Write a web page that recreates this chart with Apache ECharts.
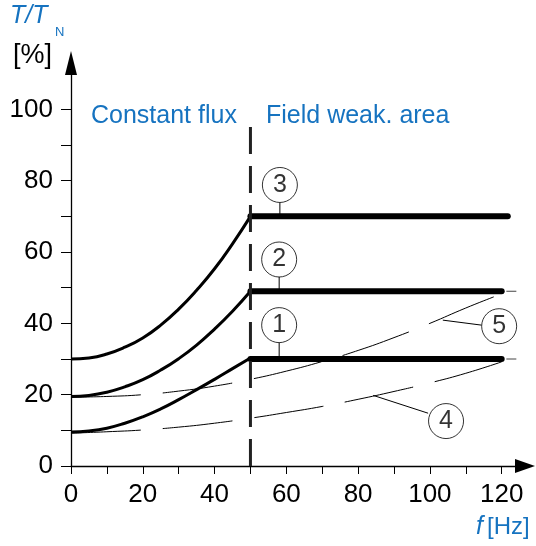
<!DOCTYPE html>
<html><head><meta charset="utf-8">
<script src="https://cdn.jsdelivr.net/npm/echarts@6/dist/echarts.min.js"></script>
<style>html,body{margin:0;padding:0;background:#fff}#c{width:536px;height:546px}</style>
</head><body><div id="c"></div>
<script>
// ---- data ----
const curveFreq = [0, 5, 10, 15, 20, 25, 30, 35, 40, 45, 50];
const curve1 = [9.5, 9.8, 10.6, 12.0, 13.8, 16.0, 18.6, 21.4, 24.3, 27.3, 30.3];
const curve2 = [19.5, 19.8, 20.7, 22.2, 24.2, 26.9, 30.1, 33.9, 38.4, 43.4, 49];
const curve3 = [30, 30.3, 31.4, 33.3, 35.9, 39.5, 44, 49.3, 55.3, 62.3, 70];
const flatFreq = [50, 120];
const flat1 = [30, 30];
const flat2 = [49, 49];
const flat3Freq = [50, 121.7];
const flat3 = [70, 70];
const extFreq = [121.3, 130];
const load4Freq = [0, 10, 20, 30, 40, 50, 60, 70, 80, 90, 100, 110, 120];
const load4 = [9.2, 9.6, 10.1, 10.9, 12.0, 13.4, 15.0, 16.7, 18.7, 20.9, 23.3, 26.0, 29.2];
const load5Freq = [0, 10, 20, 30, 40, 50, 60, 70, 80, 90, 100, 110, 118];
const load5 = [19.3, 19.5, 20.0, 21.0, 22.4, 24.3, 26.6, 29.3, 32.4, 36.0, 40.0, 44.3, 47.5];
const baseFreq = [50, 50];
const baseRange = [0, 95.3];
const xTicks = [0, 10, 20, 30, 40, 50, 60, 70, 80, 90, 100, 110, 120];
const xLabels = [0, 20, 40, 60, 80, 100, 120];
const yTicks = [0, 10, 20, 30, 40, 50, 60, 70, 80, 90, 100];
const yLabels = [0, 20, 40, 60, 80, 100];
const calloutNames = ['1', '2', '3', '4', '5'];
const calloutX = [58, 58, 58.2, 104.5, 119.3];
const calloutY = [39.5, 57.9, 78.8, 12.6, 39.2];
const leaderFrom = [[58, 34.7], [58, 53.1], [58.2, 74], [99.5, 14.8], [114.4, 39.5]];
const leaderTo = [[58, 30], [58, 49], [58.2, 70], [84.2, 19.8], [103.6, 40.9]];

const BLUE = '#1673c0';
const FONT = '"Liberation Sans", Arial, sans-serif';
const zip = (xs, ys) => xs.map((x, i) => [x, ys[i]]);

const series = [];
const lineS = (data, width, extra) => Object.assign({
  type: 'line', data, showSymbol: false, symbol: 'none', silent: true, animation: false,
  lineStyle: { color: '#000', width }
}, extra || {});

[curve1, curve2, curve3].forEach(c => series.push(lineS(zip(curveFreq, c), 3, { smooth: true })));
series.push(lineS(zip(flatFreq, flat1), 6, { lineStyle: { color: '#000', width: 6, cap: 'round' } }));
series.push(lineS(zip(flatFreq, flat2), 6, { lineStyle: { color: '#000', width: 6, cap: 'round' } }));
series.push(lineS(zip(flat3Freq, flat3), 6, { lineStyle: { color: '#000', width: 6, cap: 'round' } }));
series.push(lineS(zip(extFreq, flat1), 1, { clip: false, lineStyle: { color: '#444', width: 1, type: [10, 10] } }));
series.push(lineS(zip(extFreq, flat2), 1, { clip: false, lineStyle: { color: '#444', width: 1, type: [10, 10] } }));
series.push(lineS(zip(load4Freq, load4), 1, { smooth: true, lineStyle: { color: '#000', width: 1, type: [70, 22] } }));
series.push(lineS(zip(load5Freq, load5), 1, { smooth: true, lineStyle: { color: '#000', width: 1, type: [70, 22] } }));
series.push(lineS(zip(baseFreq, baseRange), 3, { lineStyle: { color: '#222', width: 3, type: [27, 12] } }));
leaderFrom.forEach((p, i) => series.push(lineS([p, leaderTo[i]], 1, { lineStyle: { color: '#000', width: 1 } })));
series.push({
  type: 'scatter', silent: true, animation: false,
  data: calloutNames.map((n, i) => ({ name: n, value: [calloutX[i], calloutY[i]] })),
  symbol: 'circle', symbolSize: 35,
  itemStyle: { color: '#fff', borderColor: '#000', borderWidth: 1 },
  label: { show: true, position: 'inside', formatter: p => p.name, color: '#000', fontSize: 25, fontFamily: FONT },
  z: 5
});

const chart = echarts.init(document.getElementById('c'), null, { renderer: 'canvas' });
chart.setOption({
  backgroundColor: '#fff',
  animation: false,
  grid: { left: 71, top: 63, width: 454, height: 403, containLabel: false },
  xAxis: {
    type: 'value', min: 0, max: 126.5,
    axisLine: { show: true, symbol: ['none', 'triangle'], symbolSize: [14, 20], lineStyle: { color: '#000', width: 1.3 } },
    axisTick: { show: true, inside: false, length: 8, customValues: xTicks, lineStyle: { color: '#000', width: 1 } },
    axisLabel: { show: true, customValues: xLabels, margin: 16, color: '#000', fontSize: 26, fontFamily: FONT },
    splitLine: { show: false }
  },
  yAxis: {
    type: 'value', min: 0, max: 113,
    axisLine: { show: true, symbol: ['none', 'triangle'], symbolSize: [12, 24], lineStyle: { color: '#000', width: 1.3 } },
    axisTick: { show: true, inside: false, length: 10, customValues: yTicks, lineStyle: { color: '#000', width: 1 } },
    axisLabel: { show: true, customValues: yLabels, margin: 18, color: '#000', fontSize: 26, fontFamily: FONT },
    splitLine: { show: false }
  },
  graphic: [
    { type: 'text', left: 10, top: 4, style: { text: 'T/T', font: 'italic 25px ' + FONT, fill: BLUE } },
    { type: 'text', left: 55, top: 26, style: { text: 'N', font: '13px ' + FONT, fill: BLUE } },
    { type: 'text', left: 13, top: 42, style: { text: '[%]', font: '27px ' + FONT, fill: '#000' } },
    { type: 'text', left: 91, top: 104, style: { text: 'Constant flux', font: '25px ' + FONT, fill: BLUE } },
    { type: 'text', left: 266, top: 104, style: { text: 'Field weak. area', font: '25px ' + FONT, fill: BLUE } },
    { type: 'text', left: 476, top: 515, style: { text: 'f', font: 'italic 25px ' + FONT, fill: BLUE } },
    { type: 'text', left: 487, top: 515, style: { text: '[Hz]', font: '24px ' + FONT, fill: BLUE } }
  ],
  series
});
</script></body></html>
